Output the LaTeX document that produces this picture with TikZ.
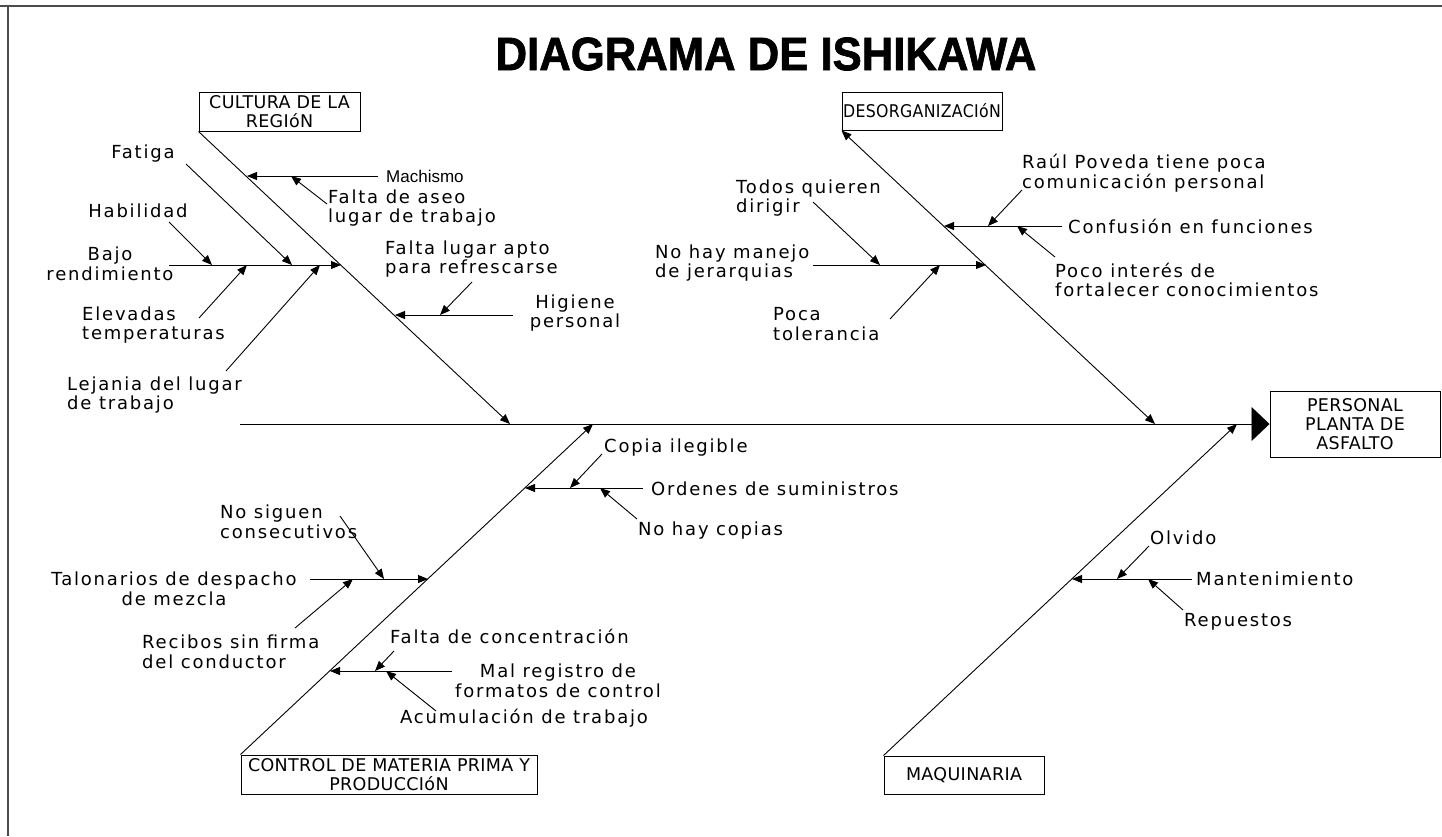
\documentclass[tikz,border=0pt]{standalone}
\usepackage{fontspec}
\usepackage{graphicx}
\setmainfont{DejaVu Sans}
\newfontfamily\cadfont{DejaVu Sans}[LetterSpace=10]
\newfontfamily\capfont{DejaVu Sans}[LetterSpace=2]
\newfontfamily\headfont{Liberation Sans}[FakeBold=1.5]
\newfontfamily\plainsans{Liberation Sans}
\usetikzlibrary{arrows.meta}

\tikzset{
  cad/.tip={Triangle[length=10pt,width=8pt]},
  lbl/.style={font=\cadfont\fontsize{18}{19.5}\selectfont, inner sep=0pt, align=left, anchor=west},
  lblc/.style={lbl, align=center, anchor=center},
  catbox/.style={draw, line width=1pt, font=\capfont\fontsize{17.5}{19}\selectfont, align=center, inner sep=0pt},
  bone/.style={line width=0.9pt, -cad},
  spine/.style={line width=0.9pt, -{Triangle[length=18pt,width=34pt]}},
  frame/.style={line width=2pt, black!70},
}

\begin{document}
\begin{tikzpicture}[x=1pt,y=-1pt]
\useasboundingbox (0,0) rectangle (1442,836);

% sheet border (top and left edges)
\draw[frame] (0,6) -- (1442,6);
\draw[frame] (8,6) -- (8,836);

% heading
\node[font=\headfont\bfseries\fontsize{45}{50}\selectfont, inner sep=0pt] (titulo) at (766,54) {\scalebox{0.97}[1.04]{DIAGRAMA DE ISHIKAWA}};

% category boxes and effect
\node[catbox, minimum width=161pt, minimum height=39pt] (cultura) at (279.5,111.5) {CULTURA DE LA\\REGIóN};
\node[catbox, minimum width=160pt, minimum height=38pt] (desorg) at (922,111) {\scalebox{0.9}[1]{DESORGANIZACIóN}};
\node[catbox, minimum width=296pt, minimum height=39pt] (control) at (389,774.5) {CONTROL DE MATERIA PRIMA Y\\PRODUCCIóN};
\node[catbox, minimum width=160pt, minimum height=38pt] (maquinaria) at (964,775) {MAQUINARIA};
\node[catbox, minimum width=170pt, minimum height=66pt] (efecto) at (1355,424) {PERSONAL\\PLANTA DE\\ASFALTO};

% spine
\coordinate (tail) at (240,424);
\draw[spine] (tail) -- (efecto.west);

% main bones
\coordinate (jc) at (510,424);
\coordinate (jd) at (1155,424);
\coordinate (jp) at (593,424);
\coordinate (jm) at (1237,424);
\draw[bone] (cultura.south west) -- (jc);
\draw[line width=0.9pt, cad-cad] (desorg.south west) -- (jd);
\draw[bone] (control.north west) -- (jp);
\draw[bone] (maquinaria.north west) -- (jm);

% ---------- CULTURA DE LA REGIÓN ----------
\node[font=\plainsans\fontsize{17}{19}\selectfont, inner sep=0pt, anchor=west] (machismo) at (386,176) {Machismo};
\node[lbl] (aseo) at (328,208) {Falta de aseo\\lugar de trabajo};
\node[lblc] (bajo) at (110,264) {Bajo\\rendimiento};
\node[lblc] (habilidad) at (138,211) {Habilidad};
\node[lblc] (fatiga) at (143,154) {Fatiga};
\node[lbl] (elevadas) at (82,325) {Elevadas\\temperaturas};
\node[lbl] (lejania) at (67,395) {Lejania del lugar\\de trabajo};
\node[lblc] (higiene) at (575,313) {Higiene\\personal};
\node[lbl] (refresco) at (385,259) {Falta lugar apto\\para refrescarse};

\coordinate (c1) at (247,176);
\coordinate (c2) at (341,265);
\coordinate (c3) at (395,315);
\coordinate (c1a) at (291,176);
\coordinate (aseo0) at (327,204);
\coordinate (bajo0) at (169,265);
\coordinate (hab0) at (169,222);
\coordinate (hab1) at (212,265);
\coordinate (fat0) at (186,164);
\coordinate (fat1) at (292,265);
\coordinate (ele0) at (199,318);
\coordinate (ele1) at (247,265);
\coordinate (lej0) at (226,371);
\coordinate (lej1) at (320,265);
\coordinate (hig0) at (513,315);
\coordinate (ref0) at (472,282);
\coordinate (ref1) at (440,315);

\draw[bone] ([xshift=-8pt]machismo.west) -- (c1);
\draw[bone] (aseo0) -- (c1a);
\draw[bone] (bajo0) -- (c2);
\draw[bone] (hab0) -- (hab1);
\draw[bone] (fat0) -- (fat1);
\draw[bone] (ele0) -- (ele1);
\draw[bone] (lej0) -- (lej1);
\draw[bone] (hig0) -- (c3);
\draw[bone] (ref0) -- (ref1);

% ---------- DESORGANIZACIÓN ----------
\node[lbl] (confusion) at (1068,226) {Confusión en funciones};
\node[lbl] (raul) at (1022,173) {Raúl Poveda tiene poca\\comunicación personal};
\node[lbl] (interes) at (1055,280) {Poco interés de\\fortalecer conocimientos};
\node[lbl] (manejo) at (655,263) {No hay manejo\\de jerarquias};
\node[lbl] (todos) at (736,198) {Todos quieren\\dirigir};
\node[lbl] (tolerancia) at (773,324) {Poca\\tolerancia};

\coordinate (d1) at (944,226);
\coordinate (d2) at (986,265);
\coordinate (conf0) at (1062,226);
\coordinate (raul0) at (1022,190);
\coordinate (raul1) at (988,226);
\coordinate (int0) at (1055,257);
\coordinate (int1) at (1017,226);
\coordinate (man0) at (813,265);
\coordinate (tod0) at (813,202);
\coordinate (tod1) at (880,265);
\coordinate (tol0) at (890,319);
\coordinate (tol1) at (940,265);

\draw[bone] (conf0) -- (d1);
\draw[bone] (raul0) -- (raul1);
\draw[bone] (int0) -- (int1);
\draw[bone] (man0) -- (d2);
\draw[bone] (tod0) -- (tod1);
\draw[bone] (tol0) -- (tol1);

% ---------- CONTROL DE MATERIA PRIMA Y PRODUCCIÓN ----------
\node[lbl] (ordenes) at (651,489) {Ordenes de suministros};
\node[lbl] (copia) at (604,448) {Copia ilegible};
\node[lbl] (nocopias) at (638,531) {No hay copias};
\node[lblc] (talonarios) at (174,589) {Talonarios de despacho\\de mezcla};
\node[lbl] (siguen) at (220,522) {No siguen\\consecutivos};
\node[lbl] (recibos) at (142,652) {Recibos sin firma\\del conductor};
\node[lblc] (registro) at (558,681) {Mal registro de\\formatos de control};
\node[lbl] (concentracion) at (390,636) {Falta de concentración};
\node[lbl] (acumulacion) at (400,718) {Acumulación de trabajo};

\coordinate (p1) at (525,488);
\coordinate (p2) at (428,579);
\coordinate (p3) at (330,671);
\coordinate (ord0) at (643,488);
\coordinate (cop0) at (602,454);
\coordinate (cop1) at (570,488);
\coordinate (noc0) at (637,519);
\coordinate (noc1) at (600,488);
\coordinate (tal0) at (310,579);
\coordinate (sig0) at (340,516);
\coordinate (sig1) at (384,579);
\coordinate (rec0) at (295,628);
\coordinate (rec1) at (353,579);
\coordinate (reg0) at (452,671);
\coordinate (con0) at (394,651);
\coordinate (con1) at (375,671);
\coordinate (acu0) at (436,711);
\coordinate (acu1) at (386,671);

\draw[bone] (ord0) -- (p1);
\draw[bone] (cop0) -- (cop1);
\draw[bone] (noc0) -- (noc1);
\draw[bone] (tal0) -- (p2);
\draw[bone] (sig0) -- (sig1);
\draw[bone] (rec0) -- (rec1);
\draw[bone] (reg0) -- (p3);
\draw[bone] (con0) -- (con1);
\draw[bone] (acu0) -- (acu1);

% ---------- MAQUINARIA ----------
\node[lbl] (mantenimiento) at (1196,579) {Mantenimiento};
\node[lbl] (olvido) at (1150,538) {Olvido};
\node[lbl] (repuestos) at (1184,622) {Repuestos};

\coordinate (m1) at (1072,579);
\coordinate (man1) at (1192,579);
\coordinate (olv0) at (1149,546);
\coordinate (olv1) at (1117,579);
\coordinate (rep0) at (1183,610);
\coordinate (rep1) at (1148,579);

\draw[bone] (man1) -- (m1);
\draw[bone] (olv0) -- (olv1);
\draw[bone] (rep0) -- (rep1);

\end{tikzpicture}
\end{document}
